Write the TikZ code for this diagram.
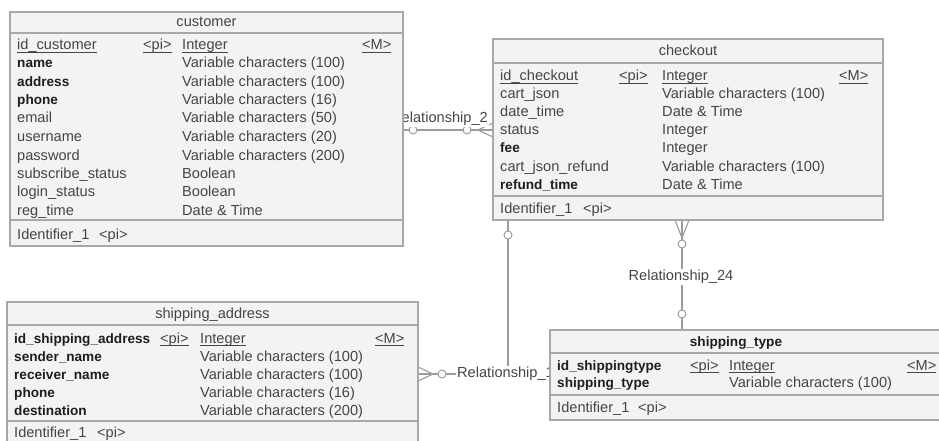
\documentclass[tikz,border=0pt]{standalone}
\usepackage{fontspec}
\setmainfont{Liberation Sans}
\usetikzlibrary{backgrounds}
\definecolor{bord}{HTML}{A8A8A8}
\definecolor{boxfill}{HTML}{F3F3F3}
\definecolor{txt}{HTML}{454545}
\definecolor{txtb}{HTML}{1E1E1E}
\definecolor{connc}{HTML}{9C9C9C}
\newcommand\fsz{\fontsize{14.6}{17}\selectfont}
\newcommand\fszb{\fontsize{13.6}{17}\selectfont\bfseries}
\newcommand\ulx[1]{\vtop{\hbox{\smash{#1}}\kern2pt\hrule height 0.8pt}}
\begin{document}
\begin{tikzpicture}[x=1pt,y=-1pt,
  tbl/.style={draw=bord, fill=boxfill, line width=1.1pt, anchor=north west, inner sep=0, outer sep=0},
  sepline/.style={draw=bord, line width=1.8pt},
  fld/.style={anchor=base west, inner sep=0, text=txt, font=\fsz},
  bfld/.style={fld, text=txtb, font=\fszb},
  conn/.style={draw=connc, line width=1.1pt},
  knot/.style={circle, draw=connc, fill=white, line width=1pt, minimum size=8pt, inner sep=0},
  rlab/.style={fill=white, inner sep=1pt, text=txt, font=\fsz}]
\useasboundingbox (0,0) rectangle (939,441);
\clip (0,0) rectangle (939,441);

% ---------- tables ----------
\node[tbl, minimum width=393, minimum height=234] (cust) at (10,12) {};
\node[tbl, minimum width=390, minimum height=181] (chk) at (493,39) {};
\node[tbl, minimum width=411, minimum height=150] (saddr) at (7,302) {};
\node[tbl, minimum width=400, minimum height=90] (styp) at (550,330) {};

% ---------- connectors (behind tables) ----------
\coordinate (r2y) at (0,130);
\coordinate (r24x) at (682,0);
\coordinate (r1x) at (508,0);
\coordinate (r1y) at (0,374);
\begin{scope}[on background layer]
  % Relationship_2
  \draw[conn] (cust.east |- r2y) -- (chk.west |- r2y);
  \coordinate (r2apex) at (478,130);
  \draw[conn] (r2apex) -- (chk.west |- 0,123);
  \draw[conn] (r2apex) -- (chk.west |- 0,137);
  \node[knot] (r2c1) at (413,130) {};
  \node[knot] (r2c2) at (467,130) {};
  \node[rlab, anchor=west] (r2lab) at (390,119) {Relationship\_2};
  % Relationship_24
  \draw[conn] (chk.south -| r24x) -- (styp.north -| r24x);
  \coordinate (r24apex) at (682,238);
  \draw[conn] (r24apex) -- (chk.south -| 675,0);
  \draw[conn] (r24apex) -- (chk.south -| 689,0);
  \node[knot] (r24c1) at (682,244) {};
  \node[knot] (r24c2) at (682,314) {};
  \node[rlab] (r24lab) at (681,277) {Relationship\_24};
  % Relationship_1
  \draw[conn] (chk.south -| r1x) |- (saddr.east |- r1y);
  \coordinate (r1apex) at (433,374);
  \draw[conn] (r1apex) -- (saddr.east |- 0,367);
  \draw[conn] (r1apex) -- (saddr.east |- 0,381);
  \node[knot] (r1c1) at (508,235) {};
  \node[knot] (r1c2) at (442,374) {};
  \node[rlab, anchor=west] (r1lab) at (456,374) {Relationship\_1};
\end{scope}

% ---------- customer ----------
\draw[sepline] (cust.west |- 0,33) -- (cust.east |- 0,33);
\draw[sepline] (cust.west |- 0,220) -- (cust.east |- 0,220);
\node[fld, anchor=base] (custT) at (206.5,27) {customer};
\node[fld] (c1n) at (17,50) {\ulx{id\_customer}};
\node[fld] (c1p) at (143,50) {\ulx{<pi>}};
\node[fld] (c1t) at (182,50) {\ulx{Integer}};
\node[fld] (c1m) at (362,50) {\ulx{<M>}};
\node[bfld] (c2n) at (17,68) {name};
\node[fld] (c2t) at (182,68) {Variable characters (100)};
\node[bfld] (c3n) at (17,86.5) {address};
\node[fld] (c3t) at (182,86.5) {Variable characters (100)};
\node[bfld] (c4n) at (17,105) {phone};
\node[fld] (c4t) at (182,105) {Variable characters (16)};
\node[fld] (c5n) at (17,123) {email};
\node[fld] (c5t) at (182,123) {Variable characters (50)};
\node[fld] (c6n) at (17,141.5) {username};
\node[fld] (c6t) at (182,141.5) {Variable characters (20)};
\node[fld] (c7n) at (17,160) {password};
\node[fld] (c7t) at (182,160) {Variable characters (200)};
\node[fld] (c8n) at (17,178.5) {subscribe\_status};
\node[fld] (c8t) at (182,178.5) {Boolean};
\node[fld] (c9n) at (17,196.5) {login\_status};
\node[fld] (c9t) at (182,196.5) {Boolean};
\node[fld] (c10n) at (17,215) {reg\_time};
\node[fld] (c10t) at (182,215) {Date \& Time};
\node[fld] (cid) at (17,239) {Identifier\_1};
\node[fld] (cidp) at (99,239) {<pi>};

% ---------- checkout ----------
\draw[sepline] (chk.west |- 0,63) -- (chk.east |- 0,63);
\draw[sepline] (chk.west |- 0,196) -- (chk.east |- 0,196);
\node[fld, anchor=base] (chkT) at (688,56) {checkout};
\node[fld] (k1n) at (500,81) {\ulx{id\_checkout}};
\node[fld] (k1p) at (619,81) {\ulx{<pi>}};
\node[fld] (k1t) at (662,81) {\ulx{Integer}};
\node[fld] (k1m) at (839,81) {\ulx{<M>}};
\node[fld] (k2n) at (500,99) {cart\_json};
\node[fld] (k2t) at (662,99) {Variable characters (100)};
\node[fld] (k3n) at (500,117) {date\_time};
\node[fld] (k3t) at (662,117) {Date \& Time};
\node[fld] (k4n) at (500,135) {status};
\node[fld] (k4t) at (662,135) {Integer};
\node[bfld] (k5n) at (500,153) {fee};
\node[fld] (k5t) at (662,153) {Integer};
\node[fld] (k6n) at (500,171) {cart\_json\_refund};
\node[fld] (k6t) at (662,171) {Variable characters (100)};
\node[bfld] (k7n) at (500,189) {refund\_time};
\node[fld] (k7t) at (662,189) {Date \& Time};
\node[fld] (kid) at (500,213) {Identifier\_1};
\node[fld] (kidp) at (583,213) {<pi>};

% ---------- shipping_address ----------
\draw[sepline] (saddr.west |- 0,325) -- (saddr.east |- 0,325);
\draw[sepline] (saddr.west |- 0,421) -- (saddr.east |- 0,421);
\node[fld, anchor=base] (saT) at (212.5,318) {shipping\_address};
\node[bfld] (s1n) at (14,343) {id\_shipping\_address};
\node[fld] (s1p) at (160,343) {\ulx{<pi>}};
\node[fld] (s1t) at (200,343) {\ulx{Integer}};
\node[fld] (s1m) at (375,343) {\ulx{<M>}};
\node[bfld] (s2n) at (14,361) {sender\_name};
\node[fld] (s2t) at (200,361) {Variable characters (100)};
\node[bfld] (s3n) at (14,379) {receiver\_name};
\node[fld] (s3t) at (200,379) {Variable characters (100)};
\node[bfld] (s4n) at (14,397) {phone};
\node[fld] (s4t) at (200,397) {Variable characters (16)};
\node[bfld] (s5n) at (14,415) {destination};
\node[fld] (s5t) at (200,415) {Variable characters (200)};
\node[fld] (sid) at (14,437) {Identifier\_1};
\node[fld] (sidp) at (97,437) {<pi>};

% ---------- shipping_type ----------
\draw[sepline] (styp.west |- 0,353) -- (styp.east |- 0,353);
\draw[sepline] (styp.west |- 0,395) -- (styp.east |- 0,395);
\node[bfld, anchor=base] (stT) at (736,346) {shipping\_type};
\node[bfld] (t1n) at (557,370) {id\_shippingtype};
\node[fld] (t1p) at (690,370) {\ulx{<pi>}};
\node[fld] (t1t) at (729,370) {\ulx{Integer}};
\node[fld] (t1m) at (907,370) {\ulx{<M>}};
\node[bfld] (t2n) at (557,387) {shipping\_type};
\node[fld] (t2t) at (729,387) {Variable characters (100)};
\node[fld] (tid) at (557,412) {Identifier\_1};
\node[fld] (tidp) at (638,412) {<pi>};
\end{tikzpicture}
\end{document}
